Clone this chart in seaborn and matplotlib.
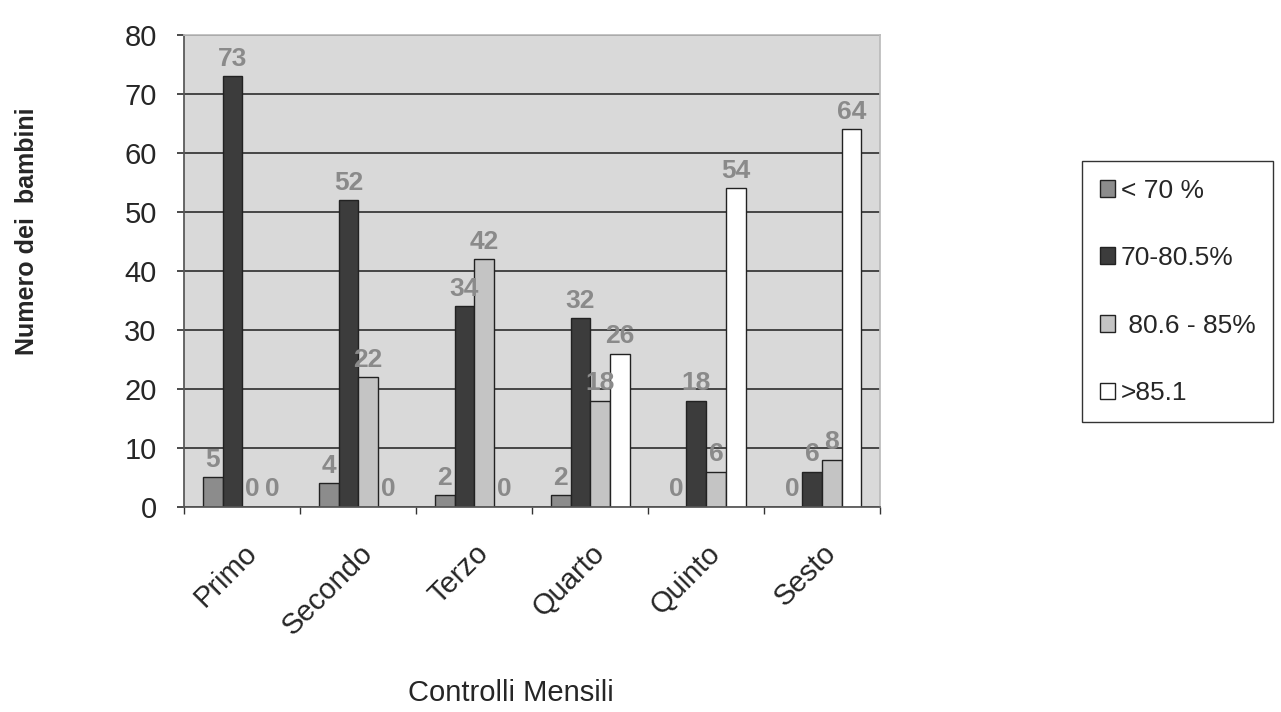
import pandas as pd
import numpy as np
import matplotlib.pyplot as plt
import seaborn as sns

# =========================================================
# 1. DATI
# =========================================================
controlli = ["Primo", "Secondo", "Terzo", "Quarto", "Quinto", "Sesto"]
classi = ["< 70 %", "70-80.5%", " 80.6 - 85%", ">85.1"]

meno_70 = [5, 4, 2, 2, 0, 0]
da_70_a_80 = [73, 52, 34, 32, 18, 6]
da_80_a_85 = [0, 22, 42, 18, 6, 8]
oltre_85 = [0, 0, 0, 26, 54, 64]

df = pd.DataFrame({
    "Controllo": controlli * 4,
    "Classe": np.repeat(classi, len(controlli)),
    "Bambini": meno_70 + da_70_a_80 + da_80_a_85 + oltre_85,
})

# =========================================================
# 2. FIGURA
# =========================================================
sns.set_theme(style="white")
plt.rcParams["font.family"] = ["Liberation Sans", "DejaVu Sans"]

colori = ["#8c8c8c", "#3c3c3c", "#c4c4c4", "#ffffff"]

fig = plt.figure(figsize=(12.81, 7.12), dpi=100)
ax = fig.add_axes([0.144, 0.288, 0.543, 0.663])
ax.set_facecolor("#d9d9d9")

sns.barplot(
    data=df,
    x="Controllo",
    y="Bambini",
    hue="Classe",
    order=controlli,
    hue_order=classi,
    palette=colori,
    width=0.68,
    edgecolor="#222222",
    linewidth=1.0,
    ax=ax,
)

# etichette dei valori
for cont in ax.containers:
    ax.bar_label(cont, padding=4, color="#8a8a8a", fontsize=19, fontweight="bold")

ax.set_ylim(0, 80)
ax.set_yticks(range(0, 81, 10))
ax.yaxis.grid(True, color="#3a3a3a", linewidth=1.3)
ax.set_axisbelow(True)
for s in ["top", "right"]:
    ax.spines[s].set_color("#bbbbbb")
ax.spines["left"].set_color("#555555")
ax.spines["bottom"].set_color("#555555")

ax.tick_params(axis="y", labelsize=21, left=True, length=5, color="#333333", pad=15)
ax.tick_params(axis="x", labelsize=21, bottom=False, pad=17)
plt.setp(ax.get_xticklabels(), rotation=45, ha="right", rotation_mode="anchor")
ax.set_xticks(np.arange(-0.5, 6, 1), minor=True)
ax.tick_params(axis="x", which="minor", bottom=True, length=5, color="#333333")

ax.set_ylabel("Numero dei  bambini", fontsize=18, fontweight="bold")
ax.set_xlabel("Controlli Mensili", fontsize=21)
ax.yaxis.set_label_coords(-0.227, 0.583)
ax.yaxis.label.set_va("center")
ax.xaxis.set_label_coords(0.469, -0.394)
ax.xaxis.label.set_va("center")

# legenda
handles, labels = ax.get_legend_handles_labels()
ax.legend(
    handles, labels,
    loc="center left",
    bbox_to_anchor=(0.845, 0.59),
    bbox_transform=fig.transFigure,
    fontsize=19,
    frameon=True,
    fancybox=False,
    edgecolor="black",
    labelspacing=1.65,
    handlelength=0.6,
    handleheight=0.6,
    handletextpad=0.2,
    borderpad=0.65,
    borderaxespad=0,
)

plt.savefig("out.png", dpi=100)
